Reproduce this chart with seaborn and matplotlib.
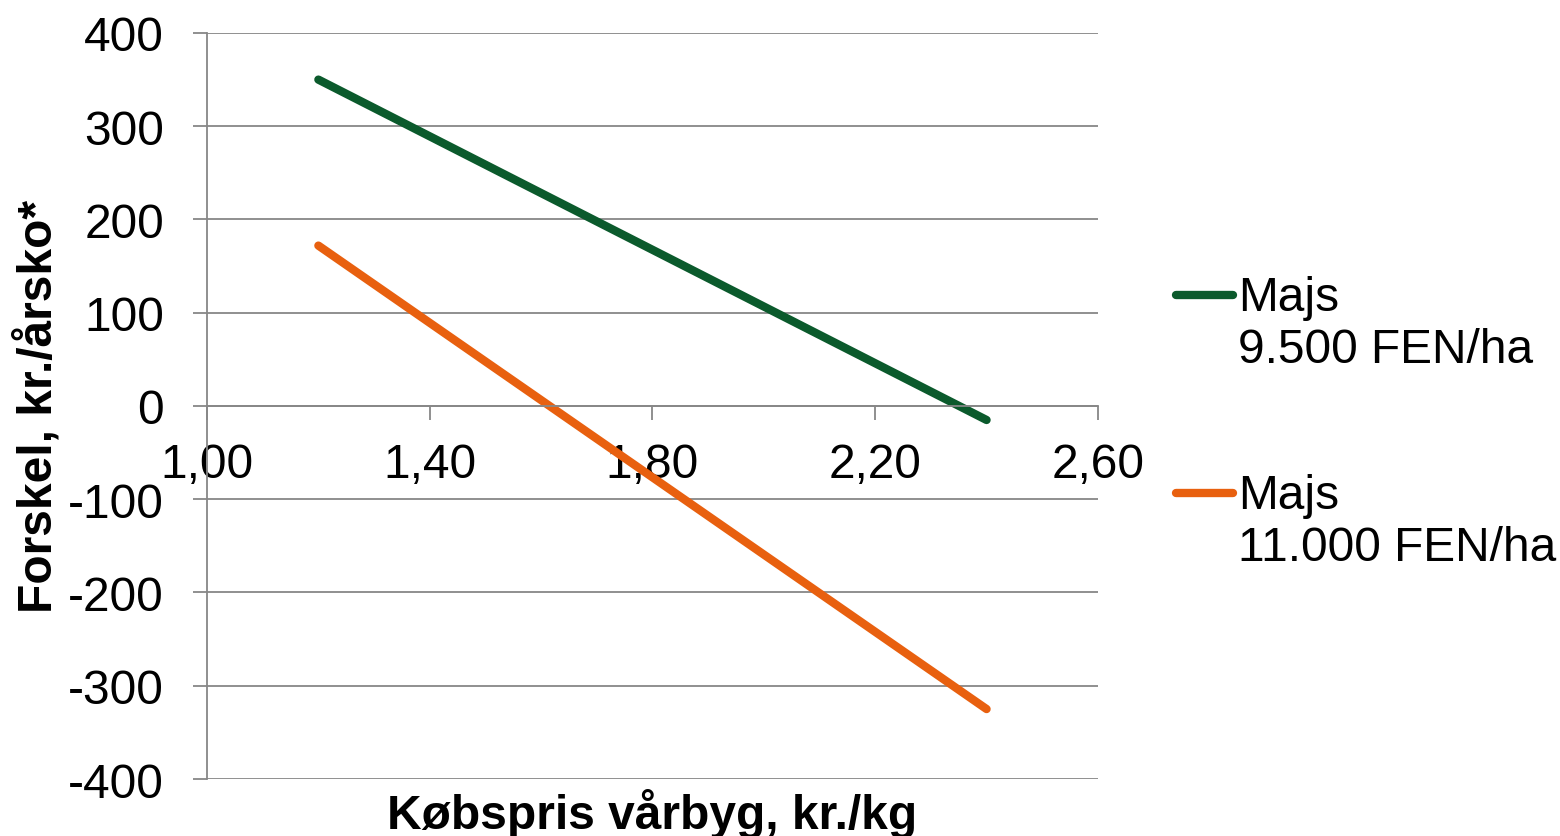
import pandas as pd
import matplotlib.pyplot as plt
import seaborn as sns

# data
pris = [1.20, 2.40]
majs_9500 = [350, -15]
majs_11000 = [172, -325]
serie_navne = ["Majs\n9.500 FEN/ha", "Majs\n11.000 FEN/ha"]
farver = ["#0B5A2C", "#E8600F"]
x_ticks = [1.00, 1.40, 1.80, 2.20, 2.60]
y_ticks = [-400, -300, -200, -100, 0, 100, 200, 300, 400]

df = pd.DataFrame({
    "pris": pris * 2,
    "forskel": majs_9500 + majs_11000,
    "serie": [serie_navne[0]] * len(pris) + [serie_navne[1]] * len(pris),
})

sns.set_theme(style="white")
plt.rcParams["font.family"] = ["Liberation Sans", "DejaVu Sans"]
plt.rcParams["text.color"] = "black"
plt.rcParams["axes.labelcolor"] = "black"

fs = 34.5
fig = plt.figure(figsize=(15.6, 8.37), dpi=100)
ax = fig.add_axes([0.1327, 0.0681, 0.5711, 0.8913])

sns.lineplot(data=df, x="pris", y="forskel", hue="serie", palette=farver,
             linewidth=6, ax=ax, solid_capstyle="round")

ax.set_xlim(1.0, 2.6)
ax.set_ylim(-400, 400)
ax.set_xticks(x_ticks)
ax.set_xticklabels([f"{v:.2f}".replace(".", ",") for v in x_ticks])
ax.set_yticks(y_ticks)
ax.set_yticklabels([str(v) for v in y_ticks])

grid_farve = "#878787"
ax.grid(axis="y", color=grid_farve, linewidth=1.3)
ax.set_axisbelow(True)
for s in ["top", "right"]:
    ax.spines[s].set_visible(False)
ax.spines["bottom"].set_position(("data", 0))
ax.spines["bottom"].set_color(grid_farve)
ax.spines["bottom"].set_linewidth(1.3)
ax.spines["left"].set_color(grid_farve)
ax.spines["left"].set_linewidth(1.3)

ax.tick_params(axis="x", direction="out", length=10, width=1.3, color=grid_farve,
               labelcolor="black", labelsize=fs, pad=16, bottom=True)
ax.tick_params(axis="y", direction="out", length=10, width=1.3, color=grid_farve,
               labelcolor="black", labelsize=fs, pad=21, left=True)

ax.set_xlabel("Købspris vårbyg, kr./kg", fontsize=fs, fontweight="bold")
ax.set_ylabel("Forskel, kr./årsko*", fontsize=fs, fontweight="bold")
ax.xaxis.set_label_coords(0.5, -0.012)
ax.yaxis.set_label_coords(-0.163, 0.5)

leg = ax.legend(loc="center left", bbox_to_anchor=(1.039, 0.478), frameon=False,
                fontsize=fs, handlelength=1.2, handletextpad=0.1, labelspacing=2.1)
for line in leg.get_lines():
    line.set_linewidth(6)
    line.set_solid_capstyle("round")
    # put the handle beside the first text line
    line.set_ydata([y + 21 for y in line.get_ydata()])

fig.savefig("out.png", dpi=100)
